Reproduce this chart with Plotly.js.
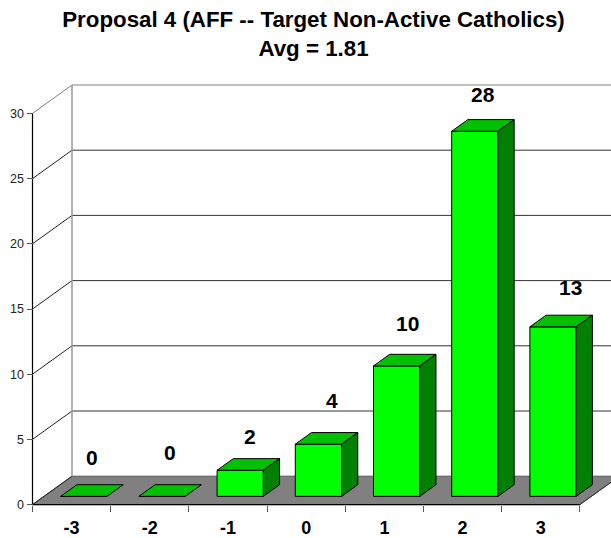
<!DOCTYPE html>
<html>
<head>
<meta charset="utf-8">
<script src="https://cdn.plot.ly/plotly-3.0.1.min.js"></script>
<style>html,body{margin:0;padding:0;background:#fff}</style>
</head>
<body>
<div id="chart" style="width:611px;height:538px"></div>
<script>
const categories = ['-3', '-2', '-1', '0', '1', '2', '3'];
const counts = [0, 0, 2, 4, 10, 28, 13];
const yTicks = [0, 5, 10, 15, 20, 25, 30];
const chartTitle = 'Proposal 4 (AFF -- Target Non-Active Catholics)';
const chartSubtitle = 'Avg = 1.81';
const labelNudgeX = [-0.087, -0.09, -0.077, -0.028, -0.06, -0.094, 0.02];
const labelNudgeY = [1.02, 1.40, 0.67, 1.39, 1.36, 0.92, 1.07];

// Scale of the picture, pixels per data unit
const pxX = 78.2, pxY = 13.04;
const plotL = 20, plotR = 611, plotT = 78, plotB = 514, axisX = 32.5, axisY = 504.6;
const depthX = 39.5 / pxX, depthY = 28.4 / pxY;   // oblique projection of the depth axis
const barWidth = 46.3 / pxX, barStart = 0.29, barDepth = 0.41;
const project = (x, v, d) => [x + d * depthX, v + d * depthY];

const xRange = [(plotL - axisX) / pxX, (plotR - axisX) / pxX];
const yRange = [(axisY - plotB) / pxY, (axisY - plotT) / pxY];

function polygon(points, fill, line) {
  const xs = points.map(p => p[0]), ys = points.map(p => p[1]);
  return {type: 'scatter', mode: 'lines', x: [...xs, xs[0]], y: [...ys, ys[0]], fill: 'toself',
          fillcolor: fill, line: {color: line, width: 1}, hoverinfo: 'skip', showlegend: false};
}
function seg(a, b, color, width) {
  return {type: 'line', xref: 'x', yref: 'y', layer: 'below', x0: a[0], y0: a[1], x1: b[0], y1: b[1],
          line: {color: color, width: width}};
}

const xEnd = categories.length;
const shapes = [];
// floor
const f = [project(0,0,0), project(xEnd,0,0), project(xEnd,0,1), project(0,0,1)];
shapes.push({type: 'path', xref: 'x', yref: 'y', layer: 'below',
  path: 'M' + f.map(p => p.join(',')).join('L') + 'Z', fillcolor: '#808080', line: {color: '#555555', width: 1}});
// walls
yTicks.forEach(v => {
  if (v > 0) {
    const c = v === 30 ? '#808080' : '#222222';
    shapes.push(seg(project(0,v,0), project(0,v,1), c, 1));
    shapes.push(seg(project(0,v,1), project(xEnd + 1,v,1), v === 30 ? '#808080' : '#333333', 1));
  }
});
shapes.push(seg(project(0,0,0), project(0,0,1), '#222222', 1));
shapes.push(seg(project(0,0,1), project(0,30,1), '#999999', 1.5));
// front axes
shapes.push(seg(project(0,0,0), project(0,30,0), '#000000', 1.2));
shapes.push(seg(project(0,0,0), project(xEnd,0,0), '#000000', 1.2));
shapes.push(seg(project(xEnd,0,0), project(xEnd,0,1), '#333333', 1));

const xPos = categories.map((_, i) => i + 0.5);
const frontBase = project(0, 0, barStart)[1];
const frontShift = project(0, 0, barStart)[0];

const bars = {
  type: 'bar', x: xPos.map(x => x + frontShift + 0.01), y: counts, base: counts.map(() => frontBase),
  width: barWidth, marker: {color: '#00FF00', line: {color: '#000000', width: 1}},
  hoverinfo: 'skip', showlegend: false
};

const traces = [bars];
counts.forEach((v, i) => {
  const a = i + 0.5 + 0.01 - barWidth / 2, b = i + 0.5 + 0.01 + barWidth / 2;
  const d0 = barStart, d1 = barStart + barDepth;
  traces.push(polygon([project(a,v,d0), project(b,v,d0), project(b,v,d1), project(a,v,d1)], '#00C000', '#000000'));
  if (v > 0) traces.push(polygon([project(b,0,d0), project(b,v,d0), project(b,v,d1), project(b,0,d1)], '#008000', '#000000'));
});

const annotations = counts.map((v, i) => {
  const p = project(i + 0.5 + labelNudgeX[i], v, barStart + barDepth);
  return {x: p[0], y: p[1] + labelNudgeY[i], xref: 'x', yref: 'y', text: '<b>' + v + '</b>', showarrow: false,
          xanchor: 'center', yanchor: 'bottom',
          font: {family: 'Liberation Sans, Arial, sans-serif', size: 21, color: '#000'}};
});

const layout = {
  width: 611, height: 538, autosize: false,
  margin: {l: plotL, r: 611 - plotR, t: plotT, b: 538 - plotB, pad: 0},
  paper_bgcolor: '#fff', plot_bgcolor: '#fff', showlegend: false, bargap: 0,
  font: {family: 'Liberation Sans, Arial, sans-serif', color: '#000'},
  title: {text: '<b>' + chartTitle + '<br>' + chartSubtitle + '</b>', x: 313.5 / 611, xanchor: 'center', xref: 'container', yref: 'container',
          y: 1 - 27 / 538, yanchor: 'middle', font: {size: 22.3, color: '#000'}},
  xaxis: {range: xRange, anchor: 'free', position: (plotB - axisY) / (plotB - plotT), showgrid: false, zeroline: false,
          showline: false, tickmode: 'array', tickvals: xPos, ticktext: categories.map(c => '<b>' + c + '</b>'),
          ticks: '', tickfont: {size: 18, color: '#000'}, ticklabelstandoff: 10,
          minor: {tickmode: 'array', tickvals: [0,1,2,3,4,5,6,7], ticks: 'outside', ticklen: 6, tickwidth: 1, tickcolor: '#555555', showgrid: false}},
  yaxis: {range: yRange, anchor: 'free', position: (axisX - plotL) / (plotR - plotL), showgrid: false, zeroline: false,
          showline: false, tickmode: 'array', tickvals: yTicks, ticks: 'outside', ticklen: 6, tickwidth: 1, tickcolor: '#555555',
          tickfont: {size: 12.5, color: '#222'}},
  shapes, annotations
};
Plotly.newPlot('chart', traces, layout, {displayModeBar: false, staticPlot: true});
</script>
</body>
</html>
